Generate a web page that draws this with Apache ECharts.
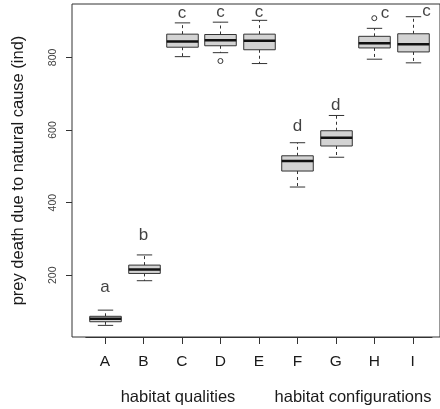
<!DOCTYPE html>
<html>
<head>
<meta charset="utf-8">
<script src="https://cdn.jsdelivr.net/npm/echarts@6/dist/echarts.min.js"></script>
<style>
  html, body { margin: 0; padding: 0; background: #fff; }
  #main { width: 440px; height: 409px; }
</style>
</head>
<body>
<div id="main"></div>
<script>
const categories = ['A', 'B', 'C', 'D', 'E', 'F', 'G', 'H', 'I'];
const boxMin    = [62, 185, 802, 813, 783, 443, 525, 795, 785];
const boxQ1     = [72, 205, 828, 832, 821, 487, 556, 826, 815];
const boxMedian = [80, 216, 844, 847, 846, 515, 579, 839, 836];
const boxQ3     = [87, 228, 864, 863, 864, 529, 598, 858, 865];
const boxMax    = [104, 256, 895, 897, 902, 565, 640, 880, 912];

const outlierCat = [3, 7];
const outlierVal = [790, 908];

const letters  = ['a', 'b', 'c', 'c', 'c', 'd', 'd', 'c', 'c'];
const letterX  = [0, 1, 2, 3, 4, 5, 6, 7.28, 8.36];
const letterY  = [166, 309, 921, 925, 925, 609, 667, 921, 928];

const yTicks = [200, 400, 600, 800];
const yMin = 30;
const yMax = 947;

const font = '"Liberation Sans", Arial, Helvetica, sans-serif';
const ink = '#333';

function renderBox(params, api) {
  const i = api.value(0);
  const lo = api.coord([i, api.value(1)]);
  const q1 = api.coord([i, api.value(2)]);
  const med = api.coord([i, api.value(3)]);
  const q3 = api.coord([i, api.value(4)]);
  const hi = api.coord([i, api.value(5)]);
  const band = api.size([1, 0])[0];
  const half = band * 0.41;
  const cap = band * 0.2;
  const cx = Math.round(lo[0]) + 0.5;
  const dash = { stroke: ink, lineWidth: 1, lineDash: [3, 3] };
  const solid = { stroke: ink, lineWidth: 1 };
  return {
    type: 'group',
    children: [
      { type: 'line', shape: { x1: cx, y1: q3[1], x2: cx, y2: hi[1] }, style: dash },
      { type: 'line', shape: { x1: cx, y1: q1[1], x2: cx, y2: lo[1] }, style: dash },
      { type: 'line', shape: { x1: cx - cap, y1: hi[1], x2: cx + cap, y2: hi[1] }, style: solid },
      { type: 'line', shape: { x1: cx - cap, y1: lo[1], x2: cx + cap, y2: lo[1] }, style: solid },
      { type: 'rect', shape: { x: cx - half, y: q3[1], width: half * 2, height: q1[1] - q3[1] },
        style: { fill: '#d3d3d3', stroke: ink, lineWidth: 1 } },
      { type: 'line', shape: { x1: cx - half, y1: med[1], x2: cx + half, y2: med[1] },
        style: { stroke: '#111', lineWidth: 2.5 } }
    ]
  };
}

function loadChart() {
  const chart = echarts.init(document.getElementById('main'), null, { renderer: 'canvas' });

  const boxData = categories.map((c, i) => [i, boxMin[i], boxQ1[i], boxMedian[i], boxQ3[i], boxMax[i]]);
  const outliers = outlierCat.map((c, i) => [c, outlierVal[i]]);
  const letterData = letters.map((t, i) => [letterX[i], letterY[i], t]);

  const option = {
    animation: false,
    backgroundColor: '#fff',
    grid: [
      { left: 72, top: 4, right: -20, bottom: 72, show: true, borderColor: ink, borderWidth: 1, backgroundColor: 'transparent' },
      { left: 85.8, top: 4, width: 346.2, bottom: 72 }
    ],
    xAxis: [
      { gridIndex: 0, type: 'value', show: false, min: 0, max: 1 },
      {
        gridIndex: 1, type: 'category', data: categories,
        axisLine: { show: true, lineStyle: { color: ink } },
        axisTick: { show: true, alignWithLabel: true, length: 7, lineStyle: { color: ink } },
        axisLabel: { margin: 17, fontSize: 15.5, color: '#1a1a1a', fontFamily: font },
        splitLine: { show: false }
      },
      { gridIndex: 1, type: 'value', show: false, min: -0.5, max: 8.5 }
    ],
    yAxis: [
      {
        gridIndex: 0, type: 'value', min: yMin, max: yMax,
        name: 'prey death due to natural cause (ind)',
        nameLocation: 'middle', nameGap: 45,
        nameTextStyle: { fontSize: 16.5, color: '#1a1a1a', fontFamily: font },
        axisLine: { show: false },
        axisTick: { show: true, length: 6, customValues: yTicks, lineStyle: { color: ink } },
        axisLabel: { rotate: 90, margin: 13, fontSize: 10.5, color: '#444', fontFamily: font, customValues: yTicks },
        splitLine: { show: false }
      },
      { gridIndex: 1, type: 'value', min: yMin, max: yMax, show: false }
    ],
    graphic: [
      { type: 'text', x: 178, y: 397, style: { text: 'habitat qualities', align: 'center', verticalAlign: 'middle', fontSize: 16.5, fontFamily: font, fill: '#1a1a1a' } },
      { type: 'text', x: 353, y: 397, style: { text: 'habitat configurations', align: 'center', verticalAlign: 'middle', fontSize: 16.5, fontFamily: font, fill: '#1a1a1a' } }
    ],
    series: [
      {
        type: 'custom', xAxisIndex: 1, yAxisIndex: 1,
        renderItem: renderBox,
        encode: { x: 0, y: [1, 2, 3, 4, 5] },
        data: boxData
      },
      {
        type: 'scatter', xAxisIndex: 1, yAxisIndex: 1,
        symbol: 'circle', symbolSize: 5, z: 5,
        itemStyle: { color: '#fff', borderColor: ink, borderWidth: 1, opacity: 1 },
        data: outliers
      },
      {
        type: 'scatter', xAxisIndex: 2, yAxisIndex: 1,
        symbolSize: 0,
        label: {
          show: true, position: 'inside', fontSize: 17, color: '#111', fontFamily: font,
          textBorderWidth: 0,
          formatter: p => p.data[2]
        },
        data: letterData
      }
    ]
  };

  chart.setOption(option);
}

document.addEventListener('DOMContentLoaded', () => {
  loadChart();
});
</script>
</body>
</html>
